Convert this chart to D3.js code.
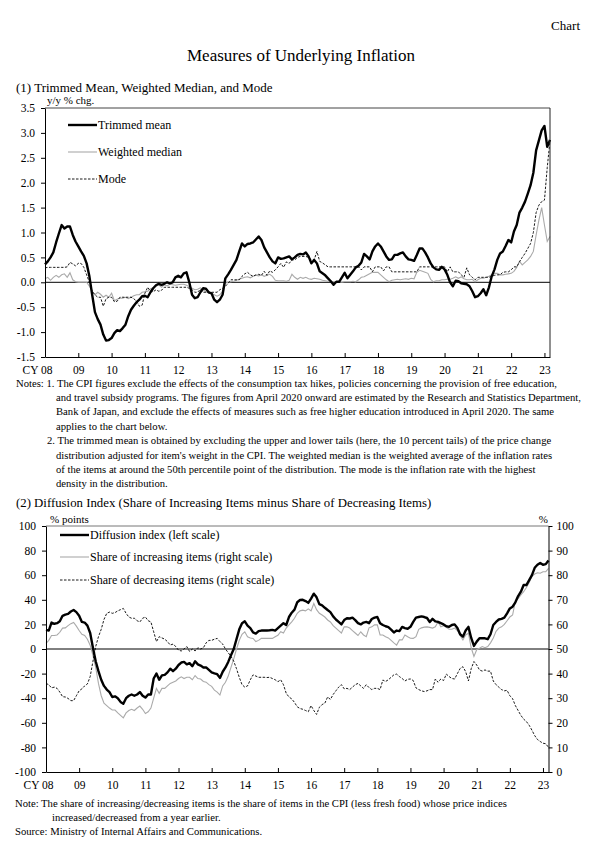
<!DOCTYPE html>
<html><head><meta charset="utf-8">
<script src="https://cdn.jsdelivr.net/npm/d3@7"></script>
<style>
body{margin:0;background:#fff;}
svg{display:block;}
svg text{font-family:"Liberation Serif","Times New Roman",serif;fill:#000;}
</style></head>
<body>
<script>
// ---------------- DATA (monthly, Jan 2008 - Mar 2023) ----------------
const yearTicks = ["08","09","10","11","12","13","14","15","16","17","18","19","20","21","22","23"];

const trimmedMean = [
0.36,0.42,0.50,0.60,0.80,0.98,1.15,1.08,1.12,1.12,0.95,0.82,
0.72,0.62,0.53,0.38,0.12,-0.25,-0.60,-0.74,-0.85,-1.05,-1.17,-1.16,
-1.12,-1.02,-0.96,-0.98,-0.92,-0.85,-0.68,-0.55,-0.47,-0.40,-0.35,-0.28,
-0.27,-0.30,-0.20,-0.12,-0.06,-0.03,-0.05,-0.03,0.00,-0.02,0.00,0.10,
0.13,0.10,0.18,0.20,0.00,-0.25,-0.32,-0.30,-0.20,-0.12,-0.13,-0.20,
-0.22,-0.35,-0.40,-0.35,-0.25,0.08,0.16,0.25,0.35,0.45,0.62,0.78,
0.72,0.77,0.78,0.80,0.86,0.92,0.85,0.70,0.60,0.50,0.42,0.38,
0.50,0.47,0.48,0.50,0.52,0.46,0.50,0.55,0.57,0.56,0.60,0.52,
0.38,0.45,0.38,0.22,0.18,0.14,0.08,0.02,-0.05,0.01,0.01,0.10,
0.19,0.08,0.15,0.22,0.30,0.33,0.40,0.57,0.52,0.46,0.62,0.72,
0.78,0.72,0.62,0.52,0.45,0.46,0.55,0.55,0.58,0.60,0.52,0.46,
0.45,0.43,0.55,0.68,0.68,0.60,0.50,0.38,0.30,0.26,0.25,0.31,
0.26,0.15,0.00,-0.08,0.03,0.02,-0.02,-0.03,-0.04,-0.08,-0.18,-0.30,
-0.28,-0.22,-0.14,-0.26,-0.10,0.12,0.26,0.45,0.58,0.62,0.73,0.85,
0.80,1.02,1.15,1.40,1.50,1.62,1.78,1.95,2.20,2.65,2.85,3.05,
3.14,2.72,2.86];

const weightedMedian = [
0.07,0.10,0.04,0.10,0.14,0.10,0.15,0.17,0.10,0.19,0.05,0.01,
0.00,0.00,0.00,0.00,-0.08,-0.18,-0.25,-0.20,-0.24,-0.30,-0.26,-0.30,
-0.22,-0.37,-0.34,-0.32,-0.32,-0.30,-0.33,-0.30,-0.27,-0.25,-0.25,-0.20,
-0.19,-0.18,-0.13,-0.11,-0.08,-0.05,-0.10,-0.05,-0.07,-0.04,-0.05,-0.06,
-0.05,-0.04,-0.04,-0.06,-0.09,-0.12,-0.15,-0.14,-0.11,-0.15,-0.19,-0.22,
-0.22,-0.25,-0.28,-0.25,-0.18,-0.02,0.00,0.01,0.02,0.04,0.06,0.08,
0.10,0.11,0.09,0.12,0.14,0.13,0.15,0.12,0.14,0.16,0.12,0.04,
0.03,0.03,0.03,0.02,0.04,0.16,0.10,0.06,0.10,0.08,0.10,0.07,
0.06,0.08,0.07,0.06,0.04,0.03,0.02,0.02,0.01,0.01,0.01,0.00,
0.01,0.01,0.01,0.02,0.01,0.05,0.10,0.11,0.14,0.17,0.20,0.20,
0.20,0.15,0.10,0.05,0.01,0.04,0.05,0.06,0.05,0.06,0.07,0.06,
0.08,0.07,0.20,0.24,0.22,0.20,0.18,0.06,0.01,0.03,0.03,0.05,
0.05,0.06,0.06,0.08,0.11,0.08,0.11,0.07,0.05,0.05,0.06,0.01,
0.05,0.08,0.08,0.10,0.12,0.15,0.18,0.18,0.15,0.15,0.16,0.17,
0.18,0.22,0.30,0.42,0.35,0.40,0.45,0.52,0.62,0.95,1.25,1.50,
1.15,0.82,0.92];

const modeRate = [
0.29,0.30,0.30,0.30,0.30,0.30,0.30,0.30,0.31,0.40,0.37,0.33,
0.38,0.38,0.30,0.15,0.00,-0.18,-0.25,-0.30,-0.30,-0.48,-0.33,-0.30,
-0.30,-0.39,-0.38,-0.30,-0.30,-0.30,-0.30,-0.30,-0.33,-0.38,-0.48,-0.46,
-0.22,-0.10,-0.18,-0.19,-0.15,-0.18,-0.16,-0.10,-0.10,-0.10,-0.10,-0.10,
-0.10,-0.10,-0.10,-0.10,-0.12,-0.15,-0.20,-0.20,-0.14,-0.20,-0.20,-0.20,
-0.20,-0.20,-0.20,-0.15,-0.12,-0.08,-0.02,0.05,0.05,0.05,0.05,0.12,
0.17,0.20,0.15,0.12,0.15,0.16,0.14,0.22,0.14,0.23,0.20,0.25,
0.31,0.38,0.30,0.41,0.38,0.45,0.45,0.50,0.52,0.52,0.52,0.50,
0.45,0.45,0.62,0.42,0.39,0.35,0.31,0.31,0.31,0.31,0.31,0.31,
0.31,0.31,0.31,0.31,0.31,0.31,0.25,0.31,0.31,0.31,0.21,0.31,
0.31,0.31,0.23,0.31,0.31,0.21,0.21,0.21,0.21,0.21,0.21,0.21,
0.21,0.21,0.21,0.31,0.31,0.31,0.31,0.31,0.31,0.31,0.31,0.31,
0.31,0.21,0.31,0.21,0.21,0.21,0.15,0.10,0.29,0.15,0.10,0.05,
0.10,0.10,0.10,0.10,0.10,0.12,0.14,0.15,0.15,0.20,0.21,0.21,
0.25,0.31,0.31,0.41,0.50,0.58,0.68,0.78,1.00,1.40,1.55,1.62,
1.65,2.30,2.85];

const diffusionIndex = [
15.5,15,21.5,20.5,21,22.5,27,28,28.5,30.5,31.7,30,
27,22,21.5,19,13,1,-10,-18,-25,-30,-33,-35,
-39,-38.5,-40,-43,-44.5,-40,-38,-37,-38,-37,-35,-38,
-39.5,-37,-37,-24,-20,-25,-21.5,-21,-19,-16,-18,-16,
-13,-11,-10.5,-12.5,-11.5,-14,-10,-12.5,-13.5,-15,-15,-17,
-19,-19.8,-20.5,-23.5,-18.5,-15,-10.5,-5,0,8,16,21,
22.5,19,17,13.5,12.5,14.5,15,15,15,15.2,15.5,15,
17,19,21,19.5,26,29.5,32,38,39.8,40,39,37.5,
41,45,42,36.5,35.5,33.5,31.7,30,26.5,24,22,20,
23.5,25,24.8,25.5,23.5,21,20,21.5,22,21,24.4,25.5,
26,21,19.5,18.5,17.8,15.8,13.5,15,14.5,18,17,16.5,
18,22,25.5,26,26.5,26,25.2,22,24.5,22.5,22,21,
20,18.5,18,19.5,20,17,12,10,15,18,9,2.5,
6,8.7,8.7,8.7,8,12,19.5,22,24,24.5,25.5,29,
33,34.4,38,43,46.6,52,52,56,60,66,68.5,70,
68.5,69,72];

const shareIncreasing = [
52.3,53.5,55.5,55.5,55.7,56.8,58.5,58.6,59.5,60.3,60.8,59.3,
57.5,56,55.5,54,51.5,47.4,42.5,36,31,28,27,26,
25.2,25.2,24,23,22,24,25,25.5,25,26,26.8,25.5,
23.8,24.5,26,30,34,32,34,34,35,36,36.5,37,
38,38.7,38,38.5,38.5,37.5,39.2,38,37.8,36.8,36.5,35.5,
34.8,33.3,32.5,31.3,35,36.5,39,42.5,46,50,53.5,56,
57,55,54.5,54.3,53,53.5,54.3,54.3,54.3,54.3,54.3,55,
55.6,57,56.5,58.5,59.8,61,62.5,64.5,65.5,65.8,65.5,66.3,
65.5,68.5,66,64.5,63.8,63,61.8,61,59.5,58.5,57.5,56.5,
59,59,58.5,57.5,56.5,55.5,57,55.7,55,58.6,59,59.8,
59.8,55.7,55.7,55,54.5,53.5,52.5,51.6,53.7,53.7,55.7,55,
54.4,54.3,55,58,58.6,58.9,59,58.8,58.5,59,61,59,
59.5,58.8,58,58,58.5,57.5,55.5,53.7,55.7,56.4,50.5,47,
49.7,50.3,51,50.5,51,52.5,54.5,57.2,58.5,59,60,61.5,
63,63.8,69.5,70.5,72,73.3,75,77,79.5,80.5,81,80.8,
81.4,81.4,82.8];

const shareDecreasing = [
36,35.5,34.2,34.5,34,32.5,30.6,30.5,29.9,29,29,31,
33,33.8,35,35.8,38.8,45,51,55,58,62,64.5,65,
64.5,64.8,65.5,66,66.5,64.5,63,62.5,62.5,61.5,61,62.5,
63,61.5,61,57,53,55,54.5,54,53,51.6,52,51,
49.5,49.2,50,51,49,50,49.2,50.5,50,50.5,52.5,53.5,
53.5,54,54.3,53,52,50,48.5,47,45,42,38.5,35.5,
34.5,35,37.5,39.5,39,38.5,38.5,38.5,38.4,38.5,38,37.5,
36.7,37.5,35.5,32,30.5,29.7,28.3,26.5,25.8,25.5,25,24.5,
27,25,23.4,26.3,27.4,28,30.5,29.5,31.5,33,34.5,35.5,
33.8,34,33.5,34.5,35.5,36,35,34,35.5,34.3,33.5,34,
34,33.5,37.4,36.8,37.5,38.5,39.5,39.8,38.8,38,37,37.7,
37.8,37.2,34.2,33.5,33,32.7,33,33.5,33.5,37.8,36.5,37.8,
37.2,39.8,38.8,38,37.8,40,42.1,42.8,40.8,37,42,44.9,
43.5,41.5,41,41.5,41,41,37,35.5,34.5,33.5,33,33.2,
31,29.8,27,25,23,21.5,20.5,19,17,14.8,13.2,12.4,
11.7,11.5,10];

const topYTicks = [-1.5,-1.0,-0.5,0.0,0.5,1.0,1.5,2.0,2.5,3.0,3.5];
const diLeftTicks = [-100,-80,-60,-40,-20,0,20,40,60,80,100];
const shareRightTicks = [0,10,20,30,40,50,60,70,80,90,100];

// ---------------- DRAWING ----------------
const W = 602, H = 851;
const svg = d3.select("body").append("svg").attr("width", W).attr("height", H);
const nMonths = trimmedMean.length;
const tickIdx = yearTicks.map((d, i) => i * 12);
const GRAY = "#aaaaaa";
const NOTE = 10.65;

function txt(x, y, s, size, anchor) {
  return svg.append("text").attr("x", x).attr("y", y).style("font-size", size + "px")
    .attr("text-anchor", anchor || "start").text(s);
}

// header
txt(580, 30, "Chart", 13, "end");
txt(301, 61, "Measures of Underlying Inflation", 17, "middle");
txt(16, 92, "(1) Trimmed Mean, Weighted Median, and Mode", 13);
txt(47, 104, "y/y % chg.", 11);

// ---- Chart 1 ----
const c1 = {l: 45, r: 550, t: 108, b: 357};
const x1 = d3.scaleLinear().domain([0, nMonths - 1]).range([c1.l, c1.r]);
const y1 = d3.scaleLinear().domain([-1.5, 3.5]).range([c1.b, c1.t]);

const g1 = svg.append("g");
g1.append("line").attr("x1", c1.l).attr("x2", c1.r).attr("y1", y1(0)).attr("y2", y1(0))
  .attr("stroke", "#000").attr("stroke-width", 1);
const line1 = d3.line().x((d, i) => x1(i)).y(d => y1(d));
g1.append("path").datum(weightedMedian).attr("d", line1).attr("fill", "none")
  .attr("stroke", GRAY).attr("stroke-width", 1.1);
g1.append("path").datum(modeRate).attr("d", line1).attr("fill", "none")
  .attr("stroke", "#000").attr("stroke-width", 0.9).attr("stroke-dasharray", "2.5,1.5");
g1.append("path").datum(trimmedMean).attr("d", line1).attr("fill", "none")
  .attr("stroke", "#000").attr("stroke-width", 2.4).attr("stroke-linejoin", "round");
g1.append("line").attr("x1", c1.l).attr("x2", c1.r).attr("y1", c1.t).attr("y2", c1.t).attr("stroke", "#444").attr("stroke-width", 1);
g1.append("line").attr("x1", c1.r).attr("x2", c1.r).attr("y1", c1.t).attr("y2", c1.b).attr("stroke", "#222").attr("stroke-width", 1);

svg.append("g").attr("transform", `translate(${c1.l},0)`)
  .call(d3.axisLeft(y1).tickValues(topYTicks).tickFormat(d => d.toFixed(1)).tickSizeInner(4).tickSizeOuter(0).tickPadding(6));
svg.append("g").attr("transform", `translate(0,${c1.b})`)
  .call(d3.axisBottom(x1).tickValues(tickIdx).tickFormat((d, i) => yearTicks[i]).tickSizeInner(-4).tickSizeOuter(0).tickPadding(9));

const lg1 = [
  {y: 125, t: "Trimmed mean", w: 2.4, c: "#000", dash: null},
  {y: 152, t: "Weighted median", w: 1.1, c: GRAY, dash: null},
  {y: 179, t: "Mode", w: 0.9, c: "#000", dash: "2.5,1.5"}
];
lg1.forEach(d => {
  svg.append("line").attr("x1", 68).attr("x2", 97).attr("y1", d.y).attr("y2", d.y)
    .attr("stroke", d.c).attr("stroke-width", d.w).attr("stroke-dasharray", d.dash);
  txt(98, d.y + 4, d.t, 12);
});

// notes
const notes = [
  {x: 16, t: "Notes: 1. The CPI figures exclude the effects of the consumption tax hikes, policies concerning the provision of free education,"},
  {x: 56, t: "and travel subsidy programs. The figures from April 2020 onward are estimated by the Research and Statistics Department,"},
  {x: 56, t: "Bank of Japan, and exclude the effects of measures such as free higher education introduced in April 2020. The same"},
  {x: 56, t: "applies to the chart below."},
  {x: 47, t: "2. The trimmed mean is obtained by excluding the upper and lower tails (here, the 10 percent tails) of the price change"},
  {x: 56, t: "distribution adjusted for item's weight in the CPI. The weighted median is the weighted average of the inflation rates"},
  {x: 56, t: "of the items at around the 50th percentile point of the distribution. The mode is the inflation rate with the highest"},
  {x: 56, t: "density in the distribution."}
];
const noteY = i => 386.5 + i * 14.4;
notes.forEach((d, i) => txt(d.x, noteY(i), d.t, NOTE));

// ---- Chart 2 ----
txt(16, 507, "(2) Diffusion Index (Share of Increasing Items minus Share of Decreasing Items)", 12.8);
txt(50, 523, "% points", 11);
txt(548, 523, "%", 11, "end");

const c2 = {l: 46, r: 548.5, t: 526, b: 772};
const x2 = d3.scaleLinear().domain([0, nMonths - 1]).range([c2.l, c2.r]);
const y2L = d3.scaleLinear().domain([-100, 100]).range([c2.b, c2.t]);
const y2R = d3.scaleLinear().domain([0, 100]).range([c2.b, c2.t]);

const g2 = svg.append("g");
g2.append("line").attr("x1", c2.l).attr("x2", c2.r).attr("y1", y2L(0)).attr("y2", y2L(0))
  .attr("stroke", "#000").attr("stroke-width", 1);
g2.append("path").datum(shareIncreasing).attr("d", d3.line().x((d, i) => x2(i)).y(d => y2R(d)))
  .attr("fill", "none").attr("stroke", GRAY).attr("stroke-width", 1.1);
g2.append("path").datum(shareDecreasing).attr("d", d3.line().x((d, i) => x2(i)).y(d => y2R(d)))
  .attr("fill", "none").attr("stroke", "#000").attr("stroke-width", 0.9).attr("stroke-dasharray", "2.5,1.5");
g2.append("path").datum(diffusionIndex).attr("d", d3.line().x((d, i) => x2(i)).y(d => y2L(d)))
  .attr("fill", "none").attr("stroke", "#000").attr("stroke-width", 2.4).attr("stroke-linejoin", "round");
g2.append("line").attr("x1", c2.l).attr("x2", c2.r).attr("y1", c2.t).attr("y2", c2.t).attr("stroke", "#777").attr("stroke-width", 1);

svg.append("g").attr("transform", `translate(${c2.l},0)`)
  .call(d3.axisLeft(y2L).tickValues(diLeftTicks).tickFormat(d => String(d)).tickSizeInner(4).tickSizeOuter(0).tickPadding(6));
svg.append("g").attr("transform", `translate(${c2.r},0)`)
  .call(d3.axisRight(y2R).tickValues(shareRightTicks).tickFormat(d => String(d)).tickSizeInner(4).tickSizeOuter(0).tickPadding(4));
svg.append("g").attr("transform", `translate(0,${c2.b})`)
  .call(d3.axisBottom(x2).tickValues(tickIdx).tickFormat((d, i) => yearTicks[i]).tickSizeInner(-4).tickSizeOuter(0).tickPadding(9));

const lg2 = [
  {y: 535, t: "Diffusion index (left scale)", w: 2.4, c: "#000", dash: null},
  {y: 557, t: "Share of increasing items (right scale)", w: 1.1, c: GRAY, dash: null},
  {y: 580, t: "Share of decreasing items (right scale)", w: 0.9, c: "#000", dash: "2.5,1.5"}
];
lg2.forEach(d => {
  svg.append("line").attr("x1", 60).attr("x2", 89).attr("y1", d.y).attr("y2", d.y)
    .attr("stroke", d.c).attr("stroke-width", d.w).attr("stroke-dasharray", d.dash);
  txt(90, d.y + 4, d.t, 12);
});

txt(15, 806.5, "Note: The share of increasing/decreasing items is the share of items in the CPI (less fresh food) whose price indices", NOTE);
txt(52, 820.5, "increased/decreased from a year earlier.", NOTE);
txt(15, 834.5, "Source: Ministry of Internal Affairs and Communications.", NOTE);

// axis styling
svg.selectAll(".tick text").style("font-family", "'Liberation Serif', serif").style("font-size", "11.5px").attr("fill", "#000");
svg.selectAll(".domain").attr("stroke", "#000").attr("stroke-width", 1);
svg.selectAll(".tick line").attr("stroke", "#000");
svg.selectAll(".tick text").each(function() {
  const t = d3.select(this);
  if (t.text() === "08") t.text("CY 08").attr("text-anchor", "end").attr("x", 7);
});
</script>
</body></html>
